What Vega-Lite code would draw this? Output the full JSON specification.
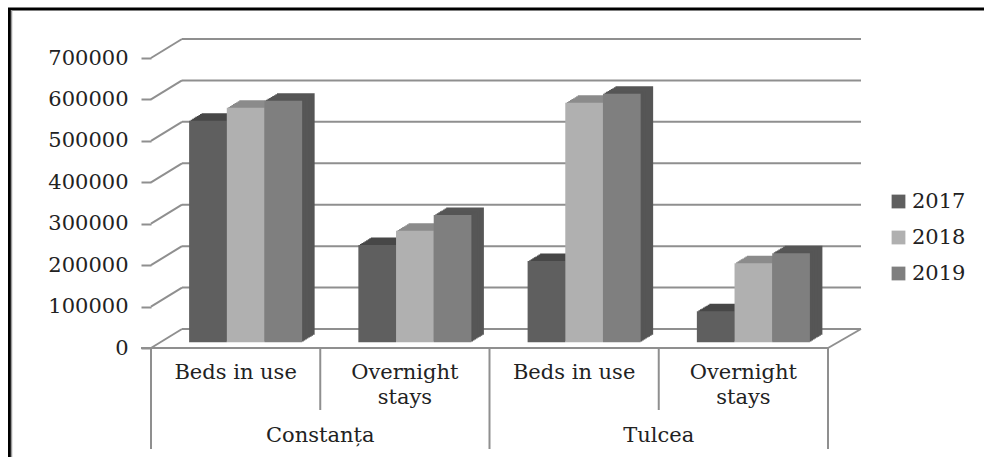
{"$schema":"https://vega.github.io/schema/vega-lite/v6.json","width":984,"height":457,"padding":0,"autosize":{"type":"none"},"background":"white","config":{"view":{"stroke":null},"text":{"font":"DejaVu Serif"}},
"datasets":{
"bars":[
{"cat":"Constanța Beds in use","year":"2017","value":535000},{"cat":"Constanța Beds in use","year":"2018","value":566000},{"cat":"Constanța Beds in use","year":"2019","value":583000},
{"cat":"Constanța Overnight stays","year":"2017","value":235000},{"cat":"Constanța Overnight stays","year":"2018","value":269000},{"cat":"Constanța Overnight stays","year":"2019","value":307000},
{"cat":"Tulcea Beds in use","year":"2017","value":196000},{"cat":"Tulcea Beds in use","year":"2018","value":578000},{"cat":"Tulcea Beds in use","year":"2019","value":600000},
{"cat":"Tulcea Overnight stays","year":"2017","value":75000},{"cat":"Tulcea Overnight stays","year":"2018","value":191000},{"cat":"Tulcea Overnight stays","year":"2019","value":215000}],
"ticks":[{"v":0},{"v":100000},{"v":200000},{"v":300000},{"v":400000},{"v":500000},{"v":600000},{"v":700000}],
"cats":[{"cat":"Constanța Beds in use","label":"Beds in use"},{"cat":"Constanța Overnight stays","label":"Overnight\nstays"},{"cat":"Tulcea Beds in use","label":"Beds in use"},{"cat":"Tulcea Overnight stays","label":"Overnight\nstays"}],
"regions":[{"region":"Constanța"},{"region":"Tulcea"}],
"longdiv":[{"p":0},{"p":2},{"p":4}],
"shortdiv":[{"p":1},{"p":3}]
},
"resolve":{"scale":{"x":"independent","xOffset":"independent"}},
"layer":[
{"data":{"name":"ticks"},"mark":{"type":"rule","color":"#8f8f8f","strokeWidth":2,"xOffset":31,"x2Offset":33,"yOffset":-19,"y2Offset":-19},"encoding":{
"x":{"datum":0,"type":"quantitative","scale":{"domain":[0,4],"range":[151,828]},"axis":null},"x2":{"datum":4},
"y":{"field":"v","type":"quantitative","scale":{"domain":[0,700000],"range":[348,58]},"axis":{"values":[0,100000,200000,300000,400000,500000,600000,700000],"title":null,"domain":false,"grid":false,"offset":-151,"tickSize":10,"tickColor":"#8f8f8f","tickWidth":2,"labelPadding":13,"labelFont":"DejaVu Serif","labelFontSize":21,"labelColor":"#222222","format":"d"}}}},
{"data":{"name":"ticks"},"mark":{"type":"rule","color":"#8f8f8f","strokeWidth":2,"x2Offset":31,"y2Offset":-19},"encoding":{
"x":{"datum":0,"type":"quantitative","scale":{"domain":[0,4],"range":[151,828]},"axis":null},"x2":{"datum":0},
"y":{"field":"v","type":"quantitative"},"y2":{"field":"v"}}},
{"data":{"values":[{"v":0}]},"mark":{"type":"rule","color":"#8f8f8f","strokeWidth":2,"x2Offset":33,"y2Offset":-19},"encoding":{
"x":{"datum":4,"type":"quantitative","scale":{"domain":[0,4],"range":[151,828]},"axis":null},"x2":{"datum":4},
"y":{"field":"v","type":"quantitative"},"y2":{"field":"v"}}},
{"data":{"name":"bars"},"mark":{"type":"bar","yOffset":-13.2,"y2Offset":-13.2},"encoding":{"x":{"field":"cat","type":"nominal","sort":null,"scale":{"range":[173.5,850.5],"paddingInner":0,"paddingOuter":0},"axis":null},"xOffset":{"field":"year","type":"nominal","scale":{"range":[0,169.25],"paddingInner":0,"paddingOuter":0.746}},"y":{"field":"value","type":"quantitative","stack":null},"y2":{"datum":0},"fill":{"field":"year","type":"nominal","legend":null,"scale":{"range":["#474747","#8b8b8b","#565656"]}}}},
{"data":{"name":"bars"},"mark":{"type":"bar","yOffset":-12.3,"y2Offset":-12.3},"encoding":{"x":{"field":"cat","type":"nominal","sort":null,"scale":{"range":[171.9,848.9],"paddingInner":0,"paddingOuter":0},"axis":null},"xOffset":{"field":"year","type":"nominal","scale":{"range":[0,169.25],"paddingInner":0,"paddingOuter":0.746}},"y":{"field":"value","type":"quantitative","stack":null},"y2":{"datum":0},"fill":{"field":"year","type":"nominal","legend":null,"scale":{"range":["#474747","#8b8b8b","#565656"]}}}},
{"data":{"name":"bars"},"mark":{"type":"bar","yOffset":-11.3,"y2Offset":-11.3},"encoding":{"x":{"field":"cat","type":"nominal","sort":null,"scale":{"range":[170.4,847.4],"paddingInner":0,"paddingOuter":0},"axis":null},"xOffset":{"field":"year","type":"nominal","scale":{"range":[0,169.25],"paddingInner":0,"paddingOuter":0.746}},"y":{"field":"value","type":"quantitative","stack":null},"y2":{"datum":0},"fill":{"field":"year","type":"nominal","legend":null,"scale":{"range":["#474747","#8b8b8b","#565656"]}}}},
{"data":{"name":"bars"},"mark":{"type":"bar","yOffset":-10.4,"y2Offset":-10.4},"encoding":{"x":{"field":"cat","type":"nominal","sort":null,"scale":{"range":[168.8,845.8],"paddingInner":0,"paddingOuter":0},"axis":null},"xOffset":{"field":"year","type":"nominal","scale":{"range":[0,169.25],"paddingInner":0,"paddingOuter":0.746}},"y":{"field":"value","type":"quantitative","stack":null},"y2":{"datum":0},"fill":{"field":"year","type":"nominal","legend":null,"scale":{"range":["#474747","#8b8b8b","#565656"]}}}},
{"data":{"name":"bars"},"mark":{"type":"bar","yOffset":-9.5,"y2Offset":-9.5},"encoding":{"x":{"field":"cat","type":"nominal","sort":null,"scale":{"range":[167.2,844.2],"paddingInner":0,"paddingOuter":0},"axis":null},"xOffset":{"field":"year","type":"nominal","scale":{"range":[0,169.25],"paddingInner":0,"paddingOuter":0.746}},"y":{"field":"value","type":"quantitative","stack":null},"y2":{"datum":0},"fill":{"field":"year","type":"nominal","legend":null,"scale":{"range":["#474747","#8b8b8b","#565656"]}}}},
{"data":{"name":"bars"},"mark":{"type":"bar","yOffset":-8.5,"y2Offset":-8.5},"encoding":{"x":{"field":"cat","type":"nominal","sort":null,"scale":{"range":[165.7,842.7],"paddingInner":0,"paddingOuter":0},"axis":null},"xOffset":{"field":"year","type":"nominal","scale":{"range":[0,169.25],"paddingInner":0,"paddingOuter":0.746}},"y":{"field":"value","type":"quantitative","stack":null},"y2":{"datum":0},"fill":{"field":"year","type":"nominal","legend":null,"scale":{"range":["#474747","#8b8b8b","#565656"]}}}},
{"data":{"name":"bars"},"mark":{"type":"bar","yOffset":-7.6,"y2Offset":-7.6},"encoding":{"x":{"field":"cat","type":"nominal","sort":null,"scale":{"range":[164.1,841.1],"paddingInner":0,"paddingOuter":0},"axis":null},"xOffset":{"field":"year","type":"nominal","scale":{"range":[0,169.25],"paddingInner":0,"paddingOuter":0.746}},"y":{"field":"value","type":"quantitative","stack":null},"y2":{"datum":0},"fill":{"field":"year","type":"nominal","legend":null,"scale":{"range":["#474747","#8b8b8b","#565656"]}}}},
{"data":{"name":"bars"},"mark":{"type":"bar","yOffset":-6.6,"y2Offset":-6.6},"encoding":{"x":{"field":"cat","type":"nominal","sort":null,"scale":{"range":[162.6,839.6],"paddingInner":0,"paddingOuter":0},"axis":null},"xOffset":{"field":"year","type":"nominal","scale":{"range":[0,169.25],"paddingInner":0,"paddingOuter":0.746}},"y":{"field":"value","type":"quantitative","stack":null},"y2":{"datum":0},"fill":{"field":"year","type":"nominal","legend":null,"scale":{"range":["#474747","#8b8b8b","#565656"]}}}},
{"data":{"name":"bars"},"mark":{"type":"bar","yOffset":-5.7,"y2Offset":-5.7},"encoding":{"x":{"field":"cat","type":"nominal","sort":null,"scale":{"range":[161,838],"paddingInner":0,"paddingOuter":0},"axis":null},"xOffset":{"field":"year","type":"nominal","scale":{"range":[0,169.25],"paddingInner":0,"paddingOuter":0.746}},"y":{"field":"value","type":"quantitative","stack":null},"y2":{"datum":0},"color":{"field":"year","type":"nominal","scale":{"domain":["2017","2018","2019"],"range":["#5f5f5f","#b0b0b0","#7f7f7f"]},"legend":{"title":null,"orient":"none","legendX":888,"legendY":191,"symbolType":"square","symbolSize":190,"symbolStrokeWidth":0,"symbolOpacity":1,"labelFont":"DejaVu Serif","labelFontSize":21,"labelColor":"#222222","rowPadding":14,"labelOffset":3}}}},
{"data":{"name":"ticks"},"transform":[{"filter":"datum.v===0"}],"mark":{"type":"rule","color":"#8f8f8f","strokeWidth":2,"xOffset":-10},"encoding":{"x":{"datum":0,"type":"quantitative","scale":{"domain":[0,4],"range":[151,828]},"axis":null},"x2":{"datum":4},"y":{"field":"v","type":"quantitative"}}},
{"data":{"name":"longdiv"},"mark":{"type":"rule","color":"#8f8f8f","strokeWidth":2,"y2Offset":101},"encoding":{"x":{"field":"p","type":"quantitative","scale":{"domain":[0,4],"range":[151,828]},"axis":null},"y":{"datum":0,"type":"quantitative"},"y2":{"datum":0}}},
{"data":{"name":"shortdiv"},"mark":{"type":"rule","color":"#8f8f8f","strokeWidth":2,"y2Offset":62},"encoding":{"x":{"field":"p","type":"quantitative","scale":{"domain":[0,4],"range":[151,828]},"axis":null},"y":{"datum":0,"type":"quantitative"},"y2":{"datum":0}}},
{"data":{"name":"cats"},"mark":{"type":"text","fontSize":21,"color":"#222222","lineBreak":"\n","lineHeight":25,"baseline":"middle","yOffset":25,"font":"DejaVu Serif"},"encoding":{"x":{"field":"cat","type":"nominal","sort":null,"scale":{"range":[151,828],"paddingInner":0,"paddingOuter":0},"axis":null},"y":{"datum":0,"type":"quantitative"},"text":{"field":"label"}}},
{"data":{"name":"regions"},"mark":{"type":"text","fontSize":21,"color":"#222222","baseline":"middle","yOffset":88,"font":"DejaVu Serif"},"encoding":{"x":{"field":"region","type":"nominal","sort":null,"scale":{"range":[151,828],"paddingInner":0,"paddingOuter":0},"axis":null},"y":{"datum":0,"type":"quantitative"},"text":{"field":"region"}}},
{"data":{"values":[{"v":700000}]},"mark":{"type":"rule","color":"#000000","strokeWidth":3,"xOffset":-143,"x2Offset":156,"yOffset":-49},"encoding":{"x":{"datum":0,"type":"quantitative","scale":{"domain":[0,4],"range":[151,828]},"axis":null},"x2":{"datum":4},"y":{"field":"v","type":"quantitative"}}},
{"data":{"values":[{"v":0}]},"mark":{"type":"rule","color":"#000000","strokeWidth":3,"xOffset":-141.5,"x2Offset":-141.5,"yOffset":-340,"y2Offset":109},"encoding":{"x":{"datum":0,"type":"quantitative","scale":{"domain":[0,4],"range":[151,828]},"axis":null},"x2":{"datum":0},"y":{"field":"v","type":"quantitative"},"y2":{"field":"v"}}},
{"data":{"values":[{"v":0}]},"mark":{"type":"rule","color":"#9a9a9a","strokeWidth":1.5,"xOffset":-139.5,"x2Offset":-139.5,"yOffset":-338,"y2Offset":109},"encoding":{"x":{"datum":0,"type":"quantitative","scale":{"domain":[0,4],"range":[151,828]},"axis":null},"x2":{"datum":0},"y":{"field":"v","type":"quantitative"},"y2":{"field":"v"}}}
]}
